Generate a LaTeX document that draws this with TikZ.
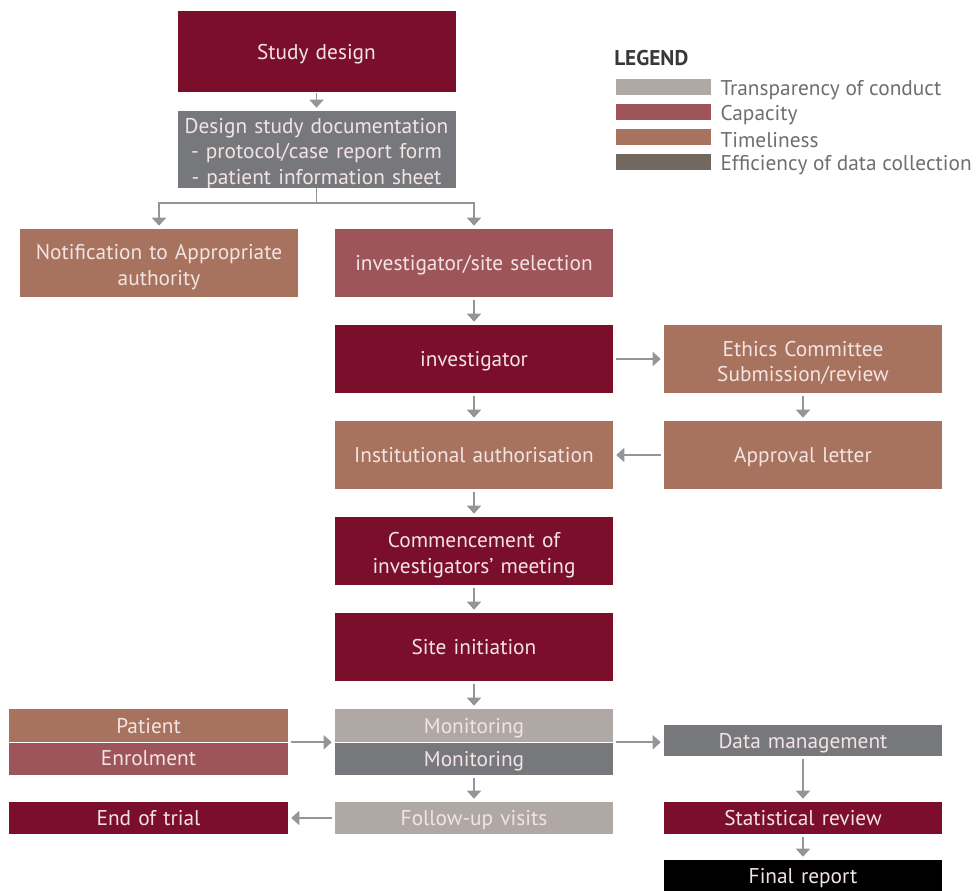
\documentclass[tikz,border=0pt]{standalone}
\usepackage{fontspec}
\setmainfont{PT Sans}
\usetikzlibrary{arrows.meta,positioning}

\definecolor{wine}{HTML}{7A0E2B}
\definecolor{slate}{HTML}{77787B}
\definecolor{clay}{HTML}{A8735E}
\definecolor{rosewood}{HTML}{9E5559}
\definecolor{stone}{HTML}{B0A8A4}
\definecolor{umber}{HTML}{73685F}
\definecolor{linkgray}{HTML}{939598}
\definecolor{boxtext}{HTML}{F2E4E4}
\definecolor{legendtext}{HTML}{6D6E71}

% pull the text a little below the middle of its box
\newcommand\textdrop{\endgraf\vspace*{-6pt}}

\begin{document}
\begin{tikzpicture} [
  x=0.75pt, y=-0.75pt,
  font=\fontsize{16}{19.2}\selectfont,
  stage/.style={rectangle, inner sep=0pt, minimum width=208.5pt,
    minimum height=51pt, text width=205pt, align=center, text=boxtext,
    execute at end node=\textdrop},
  half/.style={stage, minimum height=24pt},
  swatch/.style={rectangle, inner sep=0pt, minimum width=71.25pt, minimum height=12pt},
  key/.style={text=legendtext, inner sep=0pt, yshift=-2.25pt},
  flow/.style={draw=linkgray, line width=1.2pt,
    -{Triangle[width=10.5pt,length=6pt]}, shorten <=2.25pt, shorten >=2.25pt}]

\useasboundingbox (0,0) rectangle (976,891);

% main column
\node[stage, fill=wine, minimum height=60.75pt] (design) at (316.5,51.5) {Study design};
\node[stage, fill=slate, minimum height=57.75pt] (docs) at (316.5,149.5)
  {Design study documentation\\- protocol/case report form\\- patient information sheet};
\node[stage, fill=clay] (notify) at (159,263) {Notification to Appropriate\\authority};
\node[stage, fill=rosewood] (select) at (474,263) {investigator/site selection};
\node[stage, fill=wine] (invest) at (474,359) {investigator};
\node[stage, fill=clay] (ethics) at (803,359) {Ethics Committee\\Submission/review};
\node[stage, fill=clay] (inst) at (474,455) {Institutional authorisation};
\node[stage, fill=clay] (approval) at (803,455) {Approval letter};
\node[stage, fill=wine] (commence) at (474,551) {Commencement of\\investigators' meeting};
\node[stage, fill=wine] (siteinit) at (474,647) {Site initiation};

% bottom rows
\node[half, fill=stone, minimum height=24.75pt] (montop) at (474,725.5) {Monitoring};
\node[half, fill=slate] (monbot) at (474,758.5) {Monitoring};
\node[half, fill=clay, minimum width=209.25pt, minimum height=24.75pt] (patient) at (148.5,725.5) {Patient};
\node[half, fill=rosewood, minimum width=209.25pt] (enrol) at (148.5,758.5) {Enrolment};
\node[half, fill=slate, minimum height=23.25pt] (datamgmt) at (803,740.5) {Data management};
\node[half, fill=stone] (followup) at (474,818) {Follow-up visits};
\node[half, fill=wine, minimum width=209.25pt] (endtrial) at (148.5,818) {End of trial};
\node[half, fill=wine] (stats) at (803,818) {Statistical review};
\node[half, fill=black, minimum height=23.25pt] (final) at (803,875.5) {Final report};

% legend
\node[anchor=west, inner sep=0pt, text=black!78, font=\fontsize{16}{19}\selectfont\bfseries] (legend) at (614,58) {LEGEND};
\node[swatch, fill=stone] (sw1) at (663.5,87) {};
\node[swatch, fill=rosewood] (sw2) at (663.5,112) {};
\node[swatch, fill=clay] (sw3) at (663.5,137) {};
\node[swatch, fill=umber] (sw4) at (663.5,162) {};
\node[key, right=6.75pt of sw1] (k1) {Transparency of conduct};
\node[key, right=6.75pt of sw2] (k2) {Capacity};
\node[key, right=6.75pt of sw3] (k3) {Timeliness};
\node[key, right=6.75pt of sw4] (k4) {Efficiency of data collection};

% connectors
\coordinate (split) at (316.5,203);
\draw[flow, shorten <=0.75pt] (design) -- (docs);
\draw[draw=linkgray, line width=1.2pt] (docs) -- (split);
\draw[flow, shorten <=0pt] (split) -| (notify);
\draw[flow, shorten <=0pt] (split) -| (select);
\draw[flow] (select) -- (invest);
\draw[flow] (invest) -- (ethics);
\draw[flow] (invest) -- (inst);
\draw[flow] (ethics) -- (approval);
\draw[flow] (approval) -- (inst);
\draw[flow] (inst) -- (commence);
\draw[flow] (commence) -- (siteinit);
\draw[flow] (siteinit) -- (montop);
\draw[flow] (patient.south east) -- (montop.south west);
\draw[flow] (montop.south east) -- (montop.south east -| datamgmt.west);
\draw[flow] (monbot) -- (followup);
\draw[flow] (followup) -- (endtrial);
\draw[flow] (datamgmt) -- (stats);
\draw[flow] (stats) -- (final);
\end{tikzpicture}
\end{document}
